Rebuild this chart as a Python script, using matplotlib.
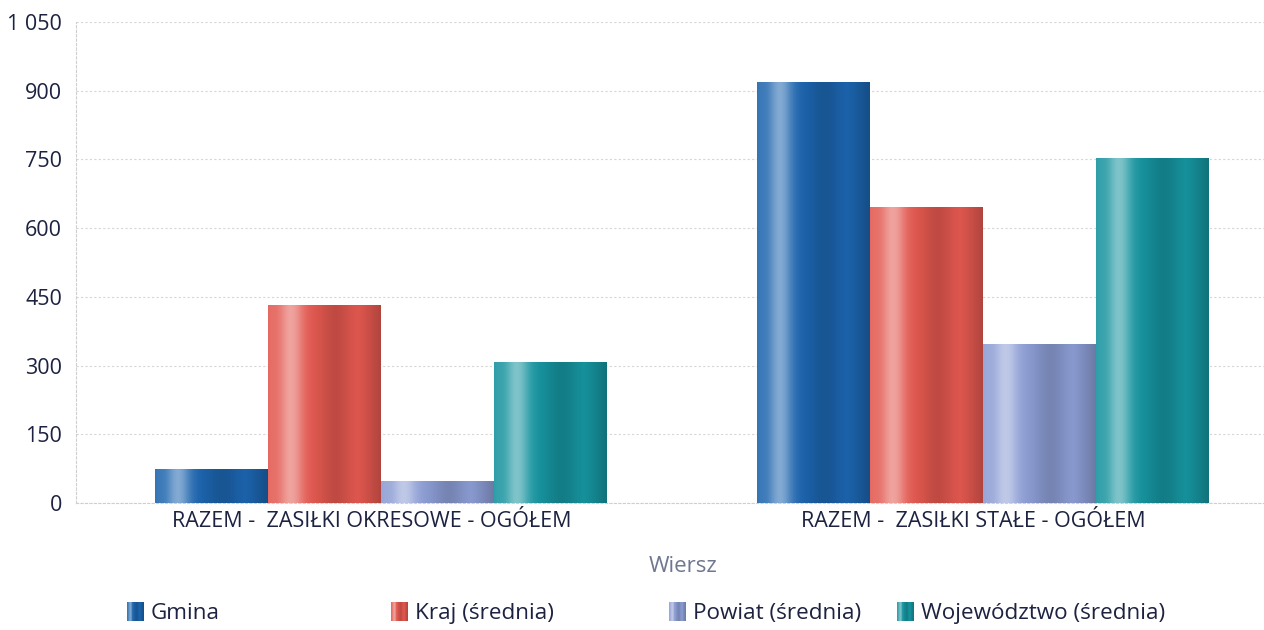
import numpy as np
import matplotlib
matplotlib.use("Agg")
import matplotlib.pyplot as plt
from matplotlib.patches import Rectangle
from matplotlib.legend_handler import HandlerBase
from matplotlib.colors import to_rgb
from matplotlib.ticker import FuncFormatter
from matplotlib.transforms import ScaledTranslation

plt.rcParams['font.family'] = ['Open Sans', 'DejaVu Sans']

# data
categories = ["RAZEM -  ZASIŁKI OKRESOWE - OGÓŁEM", "RAZEM -  ZASIŁKI STAŁE - OGÓŁEM"]
series_names = ["Gmina", "Kraj (średnia)", "Powiat (średnia)", "Województwo (średnia)"]
gmina = [74, 917]
kraj = [432, 646]
powiat = [46, 347]
wojewodztwo = [306, 753]
series_values = [gmina, kraj, powiat, wojewodztwo]
series_colors = ["#1c64ad", "#e2584f", "#8b9cd3", "#16939e"]
y_ticks = [0, 150, 300, 450, 600, 750, 900, 1050]

text_col = "#1c2240"


def shade(base, t):
    # cylinder-like shading across the bar width, t in [0, 1]
    base = np.array(to_rgb(base))
    hl = 0.45 * np.exp(-((t - 0.2) / 0.11) ** 2) + 0.1 * np.exp(-((t - 0.02) / 0.06) ** 2)
    dk = 0.15 * np.exp(-((t - 0.6) / 0.14) ** 2) + 0.22 * np.clip((t - 0.8) / 0.2, 0, 1)
    c = base * (1 - hl) + hl
    return np.clip(c * (1 - dk), 0, 1)


def gradient_strip(base, n=120):
    t = np.linspace(0, 1, n)
    return np.array([shade(base, ti) for ti in t])[None, :, :]


class GradHandler(HandlerBase):
    def create_artists(self, legend, orig_handle, xdescent, ydescent, width, height, fontsize, trans):
        base = orig_handle.get_facecolor()
        n = 24
        arts = []
        for i in range(n):
            r = Rectangle((-xdescent + width * i / n, -ydescent), width / n + 0.3, height,
                          facecolor=shade(base, (i + 0.5) / n), edgecolor='none', transform=trans)
            arts.append(r)
        return arts


fig = plt.figure(figsize=(12.64, 6.3), dpi=100)
ax = fig.add_axes([76 / 1264, 127 / 630, 1188 / 1264, 481 / 630])

x = np.arange(len(categories))
w = 0.1877
handles = []
for i, (vals, col) in enumerate(zip(series_values, series_colors)):
    bars = ax.bar(x + (i - 1.5) * w, vals, w, color=col, zorder=2, linewidth=0)
    handles.append(Rectangle((0, 0), 1, 1, facecolor=col))
    img = gradient_strip(col)
    for b in bars:
        ax.imshow(img, extent=(b.get_x(), b.get_x() + b.get_width(), 0, b.get_height()),
                  aspect='auto', zorder=3, interpolation='bilinear')

ax.set_xlim(-0.506, 1.4676)
ax.set_ylim(0, 1050)
ax.set_yticks(y_ticks)
ax.yaxis.set_major_formatter(FuncFormatter(lambda v, p: f"{v:,.0f}".replace(",", " ")))
ax.set_xticks(x)
ax.set_xticklabels(categories)
ax.tick_params(axis='y', length=0, pad=10, labelsize=15.5, labelcolor=text_col)
ax.tick_params(axis='x', length=0, pad=6, labelsize=15.5, labelcolor=text_col)
# labels sit a little left of the group centre in the original
shift = ScaledTranslation(-0.09, 0, fig.dpi_scale_trans)
for lab in ax.get_xticklabels():
    lab.set_transform(lab.get_transform() + shift)

ax.yaxis.grid(True, color='#d6d6d6', linestyle=(0, (2, 2)), linewidth=0.8, zorder=0)
ax.set_axisbelow(True)
for s in ['top', 'right']:
    ax.spines[s].set_visible(False)
for s in ['left', 'bottom']:
    ax.spines[s].set_color('#cfcfcf')
    ax.spines[s].set_linestyle((0, (2, 2)))
    ax.spines[s].set_linewidth(0.8)

fig.text(683 / 1264, 1 - 567 / 630, "Wiersz", ha='center', va='center', fontsize=16, color='#6e7690')

legend_x = [127, 391, 669, 897]
for h, name, lx in zip(handles, series_names, legend_x):
    fig.legend([h], [name], loc='center left', bbox_to_anchor=(lx / 1264, 1 - 613 / 630),
               frameon=False, borderpad=0, borderaxespad=0, handlelength=0.72, handleheight=0.95,
               handletextpad=0.35, fontsize=16.2, labelcolor=text_col,
               handler_map={Rectangle: GradHandler()})

fig.savefig("out.png", dpi=100, facecolor='white')
